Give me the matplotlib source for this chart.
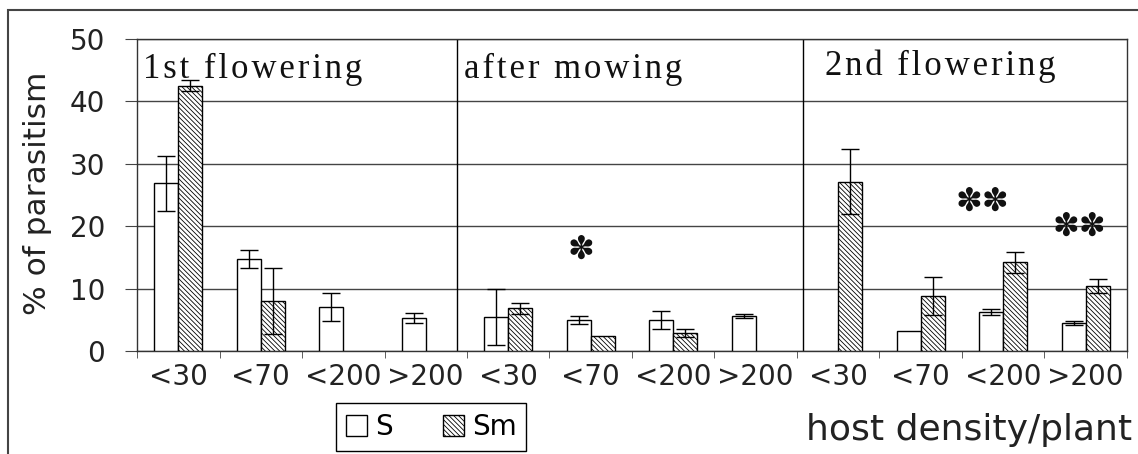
#仿一张期刊插图：三个时期的寄生率柱状图
import matplotlib.pyplot as plt
from matplotlib.patches import Patch, Rectangle
import numpy as np

plt.rcParams["font.family"] = ["DejaVu Sans"]
plt.rcParams["hatch.linewidth"] = 0.6

nan = np.nan

# 数据
cats = ["<30", "<70", "<200", ">200"] * 3
s_vals = [26.9, 14.7, 7.05, 5.3, 5.45, 5.0, 5.0, 5.65, nan, 3.25, 6.2, 4.45]
s_err = [4.4, 1.45, 2.3, 0.75, 4.45, 0.6, 1.45, 0.35, nan, nan, 0.5, 0.3]
sm_vals = [42.5, 8.0, nan, nan, 6.85, 2.45, 2.9, nan, 27.1, 8.8, 14.2, 10.4]
sm_err = [0.9, 5.3, nan, nan, 0.9, nan, 0.7, nan, 5.2, 3.1, 1.7, 1.1]

periods = ["1st flowering", "after mowing", "2nd flowering"]
period_x = [-0.43, 3.46, 7.84]
period_y = [43.7, 43.7, 44.2]
sep_x = [3.38, 7.57]

star_text = ["✽", "✽✽", "✽✽"]
star_x = [4.88, 9.75, 10.92]
star_y = [16.2, 23.9, 19.9]

fig = plt.figure(figsize=(11.38, 4.54), dpi=100)
ax = fig.add_axes([0.1204, 0.2269, 0.8699, 0.6872])

x = np.arange(len(cats))
w = 0.29
hatch = "\\\\\\\\\\\\\\"

ax.bar(x - w / 2, s_vals, width=w, color="white", edgecolor="black", linewidth=1, zorder=3)
ax.bar(x + w / 2, sm_vals, width=w, color="white", edgecolor="black", linewidth=1,
       hatch=hatch, zorder=3)
ax.errorbar(x - w / 2, s_vals, yerr=s_err, fmt="none", ecolor="black", elinewidth=1,
            capsize=6.5, capthick=1, zorder=4)
ax.errorbar(x + w / 2, sm_vals, yerr=sm_err, fmt="none", ecolor="black", elinewidth=1,
            capsize=6.5, capthick=1, zorder=4)

# 网格线和分隔线
ax.set_ylim(0, 50)
ax.set_xlim(-0.5, 11.5)
ax.set_yticks(np.arange(0, 51, 10))
ax.yaxis.grid(True, color="#444444", linewidth=1)
ax.set_axisbelow(True)
for sx in sep_x:
    ax.axvline(sx, color="black", linewidth=1, zorder=2)

# 标题字母间距加宽
for t, px, py in zip(periods, period_x, period_y):
    ax.text(px, py, "\u200a".join(t), family=["Liberation Serif", "DejaVu Serif"],
            fontsize=25, color="#111111", ha="left", va="baseline")

for t, px, py in zip(star_text, star_x, star_y):
    ax.text(px, py, t, fontsize=23, ha="center", va="center", color="#111111")

# 坐标轴
ax.set_xticks(x)
ax.set_xticklabels(cats, fontsize=20, color="#222222")
ax.set_xticks(np.arange(-0.5, 12, 1), minor=True)
ax.tick_params(axis="x", which="major", length=0, pad=9)
ax.tick_params(axis="x", which="minor", length=5, color="#444444", direction="out")
ax.tick_params(axis="y", length=9, pad=14, labelsize=20, color="#444444", labelcolor="#222222")
for sp in ax.spines.values():
    sp.set_color("#333333")
    sp.set_linewidth(1)

fig.text(38 / 1138, 0.574, "% of parasitism", rotation=90, fontsize=22.5,
         ha="center", va="center", color="#222222")
fig.text(0.8515, 0.053, "host density/plant", fontsize=26, ha="center", va="center",
         color="#222222")

# 图例
handles = [Patch(facecolor="white", edgecolor="black", linewidth=1),
           Patch(facecolor="white", edgecolor="black", linewidth=1, hatch=hatch)]
leg = fig.legend(handles, ["S", "Sm"], loc="center", bbox_to_anchor=(0.379, 0.0595),
                 ncol=2, fontsize=20, handlelength=0.75, handleheight=0.8,
                 handletextpad=0.3, columnspacing=1.8, borderpad=0.35,
                 fancybox=False, framealpha=1)
leg.get_frame().set_edgecolor("black")
leg.get_frame().set_linewidth(1)

# 外框
fig.patches.append(Rectangle((8 / 1138, -0.05), 1.1, 1.05 - 10 / 454,
                             transform=fig.transFigure, fill=False,
                             edgecolor="#444444", linewidth=1.5))

fig.savefig("out.png", dpi=100)
